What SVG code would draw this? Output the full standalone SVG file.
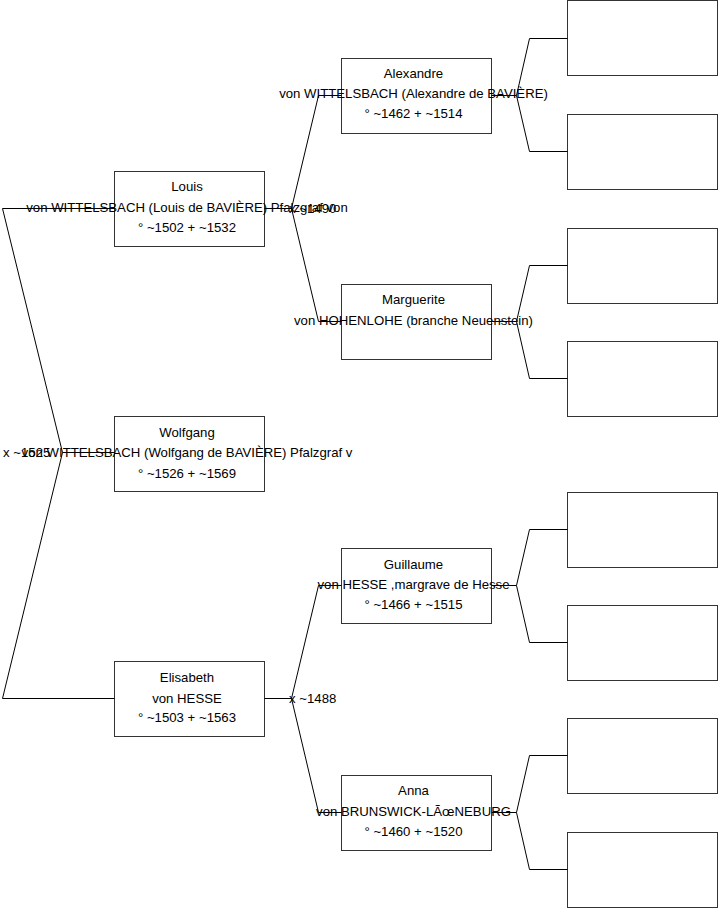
<svg xmlns="http://www.w3.org/2000/svg" width="719" height="908" viewBox="0 0 719 908">
<style>
.box{fill:#fff;stroke:#333;stroke-width:1}
.t{font-family:"Liberation Sans",Arial,sans-serif;font-size:13.2px;fill:#000;text-anchor:middle}
.m{font-family:"Liberation Sans",Arial,sans-serif;font-size:13.2px;fill:#000}
.c{fill:none;stroke:#000;stroke-width:1}
</style>
<rect width="719" height="908" fill="#fff"/>
<g id="n-louis"><rect class="box" x="114.5" y="171.5" width="150" height="75"/>
<text class="t" x="187" y="191">Louis</text>
<text class="t" x="187" y="211.5">von WITTELSBACH (Louis de BAVIÈRE) Pfalzgraf von</text>
<text class="t" x="187" y="232">° ~1502 + ~1532</text></g>
<g id="n-wolfgang"><rect class="box" x="114.5" y="416.5" width="150" height="75"/>
<text class="t" x="187" y="437">Wolfgang</text>
<text class="t" x="187" y="457">von WITTELSBACH (Wolfgang de BAVIÈRE) Pfalzgraf v</text>
<text class="t" x="187" y="477.5">° ~1526 + ~1569</text></g>
<g id="n-elisabeth"><rect class="box" x="114.5" y="661.5" width="150" height="75"/>
<text class="t" x="187" y="682">Elisabeth</text>
<text class="t" x="187" y="702.5">von HESSE</text>
<text class="t" x="187" y="722">° ~1503 + ~1563</text></g>
<g id="n-alexandre"><rect class="box" x="341.5" y="58.5" width="150" height="75"/>
<text class="t" x="413.5" y="77.5">Alexandre</text>
<text class="t" x="413.5" y="98">von WITTELSBACH (Alexandre de BAVIÈRE)</text>
<text class="t" x="413.5" y="118">° ~1462 + ~1514</text></g>
<g id="n-marguerite"><rect class="box" x="341.5" y="284.5" width="150" height="75"/>
<text class="t" x="413.5" y="304">Marguerite</text>
<text class="t" x="413.5" y="325">von HOHENLOHE (branche Neuenstein)</text></g>
<g id="n-guillaume"><rect class="box" x="341.5" y="548.5" width="150" height="75"/>
<text class="t" x="413.5" y="568.5">Guillaume</text>
<text class="t" x="413.5" y="589">von HESSE ,margrave de Hesse</text>
<text class="t" x="413.5" y="609">° ~1466 + ~1515</text></g>
<g id="n-anna"><rect class="box" x="341.5" y="775.5" width="150" height="75"/>
<text class="t" x="413.5" y="795">Anna</text>
<text class="t" x="413.5" y="815.5">von BRUNSWICK-LÃœNEBURG</text>
<text class="t" x="413.5" y="836">° ~1460 + ~1520</text></g>
<g id="n-g3-1"><rect class="box" x="567.5" y="0.5" width="150" height="75"/></g>
<g id="n-g3-2"><rect class="box" x="567.5" y="114.5" width="150" height="75"/></g>
<g id="n-g3-3"><rect class="box" x="567.5" y="228.5" width="150" height="75"/></g>
<g id="n-g3-4"><rect class="box" x="567.5" y="341.5" width="150" height="75"/></g>
<g id="n-g3-5"><rect class="box" x="567.5" y="492.5" width="150" height="75"/></g>
<g id="n-g3-6"><rect class="box" x="567.5" y="605.5" width="150" height="75"/></g>
<g id="n-g3-7"><rect class="box" x="567.5" y="718.5" width="150" height="75"/></g>
<g id="n-g3-8"><rect class="box" x="567.5" y="832.5" width="150" height="75"/></g>
<g id="connectors">
<path class="c" d="M114.5,208.5 H2.5 L62.5,452.5 L2.5,698.5 H114.5 M62.5,452.5 H114.5"/>
<path class="c" d="M264.5,208.5 H291.5 M318.5,95.5 L291.5,208.5 L318.5,321.5 M318.5,95.5 H341.5 M318.5,321.5 H341.5"/>
<path class="c" d="M264.5,698.5 H291.5 M318.5,585.5 L291.5,698.5 L318.5,812.5 M318.5,585.5 H341.5 M318.5,812.5 H341.5"/>
<path class="c" d="M491.5,95.5 H516.5 M529.5,38.5 L516.5,95.5 L529.5,151.5 M529.5,38.5 H567.5 M529.5,151.5 H567.5"/>
<path class="c" d="M491.5,321.5 H516.5 M529.5,265.5 L516.5,321.5 L529.5,378.5 M529.5,265.5 H567.5 M529.5,378.5 H567.5"/>
<path class="c" d="M491.5,585.5 H516.5 M529.5,529.5 L516.5,585.5 L529.5,642.5 M529.5,529.5 H567.5 M529.5,642.5 H567.5"/>
<path class="c" d="M491.5,812.5 H516.5 M529.5,755.5 L516.5,812.5 L529.5,869.5 M529.5,755.5 H567.5 M529.5,869.5 H567.5"/>
<text class="m" x="3" y="456.5">x ~1525</text>
<text class="m" x="289" y="212.5">x ~1490</text>
<text class="m" x="289" y="702.5">x ~1488</text>
</g>
</svg>
